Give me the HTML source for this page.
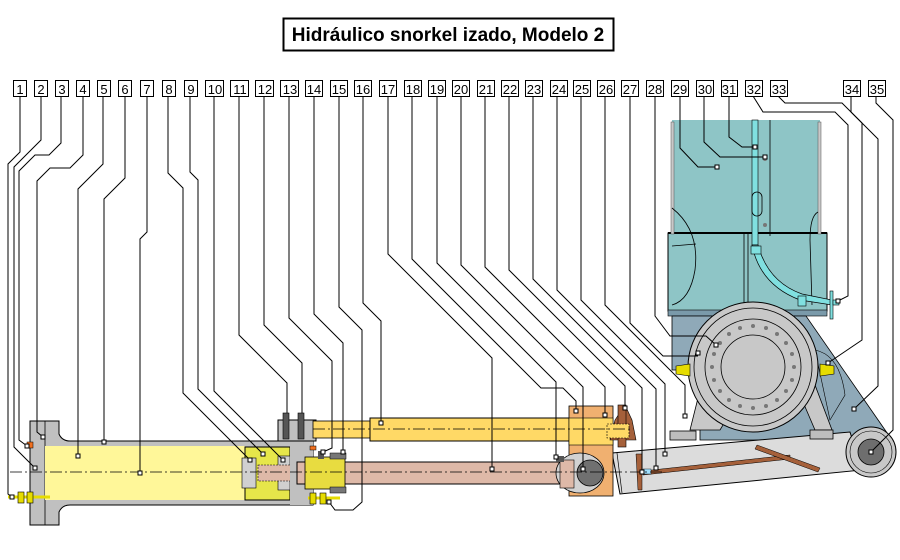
<!DOCTYPE html>
<html><head><meta charset="utf-8"><style>
html,body{margin:0;padding:0;background:#fff;}
svg{display:block;}
text{font-family:"Liberation Sans",sans-serif;}
</style></head><body>
<svg width="900" height="560" viewBox="0 0 900 560" xmlns="http://www.w3.org/2000/svg">
<rect width="900" height="560" fill="#fff"/>
<!-- title -->
<rect x="283.5" y="18.5" width="330" height="32" fill="#fff" stroke="#000" stroke-width="2"/>
<text x="448" y="41" font-size="19" font-weight="bold" text-anchor="middle">Hidráulico snorkel izado, Modelo 2</text>

<!-- ===== Tower ===== -->
<rect x="672" y="120" width="148" height="115" fill="#8ec5c6"/>
<rect x="668" y="233" width="159" height="78" fill="#8ec5c6" stroke="#000" stroke-width="1"/>
<line x1="668" y1="233" x2="827" y2="233" stroke="#000" stroke-width="2"/>
<rect x="671" y="122" width="3" height="112" fill="#c8c8c8" stroke="#555" stroke-width="0.5"/>
<rect x="818" y="122" width="3" height="112" fill="#c8c8c8" stroke="#555" stroke-width="0.5"/>
<path d="M672 208 Q700 230 695 270 Q690 300 672 305" fill="none" stroke="#000" stroke-width="0.8"/>
<path d="M672 246 L696 244" fill="none" stroke="#000" stroke-width="0.8"/>
<line x1="744" y1="233" x2="744" y2="310" stroke="#000" stroke-width="0.8"/>
<line x1="748" y1="233" x2="748" y2="310" stroke="#000" stroke-width="0.8"/>
<line x1="770" y1="120" x2="770" y2="236" stroke="#000" stroke-width="0.8"/>
<path d="M818 212 Q810 216 810 240 L812 305" fill="none" stroke="#000" stroke-width="0.8"/>
<rect x="752" y="120" width="6" height="125" fill="#80e0e0" stroke="#000" stroke-width="0.6"/>
<rect x="752" y="192" width="10" height="24" rx="5" fill="none" stroke="#000" stroke-width="0.8"/>
<circle cx="765" cy="159" r="2" fill="#777"/>
<circle cx="765" cy="225" r="2" fill="#777"/>
<path d="M752 245 Q760 285 800 300 L832 305 L832 300 L802 294 Q768 282 758 245 Z" fill="#80e0e0" stroke="#000" stroke-width="0.7"/>
<rect x="751" y="246" width="10" height="8" fill="#80e0e0" stroke="#000" stroke-width="0.6"/>
<rect x="798" y="296" width="8" height="10" fill="#80e0e0" stroke="#000" stroke-width="0.6"/>
<rect x="830" y="291" width="3" height="28" fill="#80e0e0" stroke="#000" stroke-width="0.6"/>
<rect x="833" y="300" width="6" height="5" fill="#80e0e0" stroke="#000" stroke-width="0.6"/>
<rect x="668" y="310" width="159" height="6" fill="#7a9aaa" stroke="#000" stroke-width="0.6"/>

<!-- blue housing -->
<path d="M672 316 L806 316 L892 440 L880 450 L770 440 L700 440 L700 370 L672 370 Z" fill="#8fa9b8" stroke="#000" stroke-width="0.8"/>
<path d="M815 350 Q840 355 845 395 L830 420 Z" fill="#8fa9b8" stroke="#000" stroke-width="0.6"/>

<!-- lever arm -->
<path d="M612 453 L850 432 L862 470 L620 494 Z" fill="#dcdcdc" stroke="#000" stroke-width="1"/>
<line x1="617" y1="453" x2="622" y2="493" stroke="#000" stroke-width="0.7"/>
<circle cx="871" cy="452" r="25" fill="#c8c8c8" stroke="#000" stroke-width="1"/>
<circle cx="871" cy="452" r="21" fill="none" stroke="#000" stroke-width="0.6"/>
<circle cx="871" cy="452" r="13" fill="#6e6e6e" stroke="#000" stroke-width="0.8"/>
<path d="M643 471 L790 455 L790 459 L643 475 Z" fill="#a5603a" stroke="#000" stroke-width="0.5"/>
<path d="M757 445 L820 468 L818 472 L755 449 Z" fill="#a5603a" stroke="#000" stroke-width="0.5"/>
<path d="M636 454 L642 454 L642 490 L638 490 Z" fill="#a5603a" stroke="#000" stroke-width="0.5"/>
<rect x="643" y="469" width="8" height="5" fill="#a0e0ff" stroke="#000" stroke-width="0.4"/>

<!-- gearbox legs -->
<path d="M700 390 L690 430 L720 430 L735 405 Z" fill="#c8c8c8" stroke="#000" stroke-width="0.8"/>
<path d="M800 395 L815 430 L832 430 L815 385 Z" fill="#c8c8c8" stroke="#000" stroke-width="0.8"/>
<rect x="670" y="431" width="26" height="9" fill="#bdbdbd" stroke="#000" stroke-width="0.8"/>
<rect x="810" y="430" width="23" height="9" fill="#bdbdbd" stroke="#000" stroke-width="0.8"/>
<!-- gear circle -->
<circle cx="753" cy="367" r="65" fill="#c8c8c8" stroke="#000" stroke-width="1"/>
<circle cx="753" cy="367" r="59" fill="#c8c8c8" stroke="#000" stroke-width="0.8"/>
<circle cx="753" cy="367" r="48" fill="#c8c8c8" stroke="#000" stroke-width="0.8"/>
<circle cx="753" cy="367" r="32" fill="#c8c8c8" stroke="#000" stroke-width="0.8"/>
<g fill="#777">
<circle cx="794" cy="367" r="2"/><circle cx="792" cy="380" r="2"/><circle cx="786" cy="391" r="2"/><circle cx="777" cy="400" r="2"/><circle cx="766" cy="406" r="2"/><circle cx="753" cy="408" r="2"/><circle cx="740" cy="406" r="2"/><circle cx="729" cy="400" r="2"/><circle cx="720" cy="391" r="2"/><circle cx="714" cy="380" r="2"/><circle cx="712" cy="367" r="2"/><circle cx="714" cy="354" r="2"/><circle cx="720" cy="343" r="2"/><circle cx="729" cy="334" r="2"/><circle cx="740" cy="328" r="2"/><circle cx="753" cy="326" r="2"/><circle cx="766" cy="328" r="2"/><circle cx="777" cy="334" r="2"/><circle cx="786" cy="343" r="2"/><circle cx="792" cy="354" r="2"/>
</g>
<!-- yellow fittings -->
<path d="M676 366 L690 364 L690 376 L676 374 Z" fill="#e6dc00" stroke="#000" stroke-width="0.6"/>
<path d="M820 364 L834 366 L834 374 L820 376 Z" fill="#e6dc00" stroke="#000" stroke-width="0.6"/>

<!-- ===== Left cylinder ===== -->
<path d="M30 421 L59 421 L59 434 Q62 441 70 441 L313 441 L313 505 L70 505 Q62 505 59 512 L59 525 L30 525 Z" fill="#c0c0c0" stroke="#000" stroke-width="1"/>
<line x1="45" y1="421" x2="45" y2="525" stroke="#000" stroke-width="0.8"/>
<rect x="45" y="446" width="200" height="54" fill="#fff799"/>
<rect x="245" y="447" width="45" height="53" fill="#e6e64a" stroke="#000" stroke-width="1"/>
<rect x="242" y="458" width="14" height="30" fill="#d0d0d0" stroke="#000" stroke-width="0.6"/>
<rect x="278" y="456" width="12" height="34" fill="#d0d0d0" stroke="#000" stroke-width="0.6"/>
<rect x="258" y="465" width="40" height="16" fill="#deb9a8" stroke="#000" stroke-width="0.6" stroke-dasharray="2,1"/>
<rect x="290" y="441" width="23" height="64" fill="#c0c0c0"/>
<!-- bracket -->
<rect x="278" y="420" width="38" height="21" fill="#c0c0c0" stroke="#000" stroke-width="1"/>
<rect x="283" y="413" width="6" height="26" fill="#555" stroke="#000" stroke-width="0.6"/>
<rect x="298" y="413" width="6" height="26" fill="#555" stroke="#000" stroke-width="0.6"/>
<rect x="310" y="446" width="6" height="4" fill="#f07020" stroke="#000" stroke-width="0.5"/>
<rect x="27" y="442" width="6" height="6" fill="#f07020" stroke="#000" stroke-width="0.5"/>
<!-- lower rod -->
<rect x="297" y="462" width="270" height="22" fill="#deb9a8" stroke="#000" stroke-width="1"/>
<rect x="305" y="457" width="40" height="32" fill="#e8dc40" stroke="#000" stroke-width="0.8"/>
<rect x="330" y="453" width="16" height="6" fill="#777" stroke="#000" stroke-width="0.5"/>
<rect x="330" y="487" width="16" height="6" fill="#777" stroke="#000" stroke-width="0.5"/>
<rect x="318" y="451" width="6" height="8" fill="#555"/>
<!-- bottom fittings -->
<path d="M8 497 L50 497" stroke="#e6dc00" stroke-width="3"/>
<rect x="18" y="492" width="6" height="11" fill="#e6dc00" stroke="#000" stroke-width="0.6"/>
<rect x="27" y="492" width="6" height="11" fill="#e6dc00" stroke="#000" stroke-width="0.6"/>
<path d="M308 498 L340 498" stroke="#e6dc00" stroke-width="3"/>
<rect x="310" y="493" width="6" height="11" fill="#e6dc00" stroke="#000" stroke-width="0.6"/>
<rect x="320" y="493" width="6" height="11" fill="#e6dc00" stroke="#000" stroke-width="0.6"/>

<!-- upper yellow rod -->
<rect x="313" y="421" width="58" height="17" fill="#ffd966" stroke="#000" stroke-width="0.8"/>
<rect x="370" y="418" width="240" height="23" fill="#ffd966" stroke="#000" stroke-width="1"/>
<!-- orange block & clevis -->
<rect x="569" y="406" width="44" height="90" fill="#f0b070" stroke="#000" stroke-width="0.8"/>
<rect x="569" y="418" width="44" height="27" fill="#ffd966" stroke="#000" stroke-width="0.6"/>
<ellipse cx="580" cy="473" rx="24" ry="20" fill="#d2d2d2" stroke="#000" stroke-width="0.8"/>
<rect x="560" y="460" width="14" height="28" fill="#deb9a8" stroke="#000" stroke-width="0.6"/>
<circle cx="590" cy="473" r="13" fill="#707070" stroke="#000" stroke-width="0.8"/>
<rect x="556" y="456" width="8" height="6" fill="#555"/>
<path d="M615 420 L625 405 L632 420 L636 440 L610 440 Z" fill="#a5603a" stroke="#000" stroke-width="0.6"/>
<rect x="618" y="405" width="8" height="42" fill="#a5603a" stroke="#000" stroke-width="0.6"/>
<rect x="607" y="424" width="22" height="14" fill="#ffd966" stroke="#000" stroke-width="0.6" stroke-dasharray="2,1"/>

<!-- centerlines -->
<line x1="10" y1="472" x2="662" y2="472" stroke="#000" stroke-width="0.8" stroke-dasharray="12,3,2,3"/>
<line x1="313" y1="429" x2="630" y2="429" stroke="#000" stroke-width="0.8" stroke-dasharray="12,3,2,3"/>

<!-- leaders -->
<g fill="none" stroke="#000" stroke-width="1">
<polyline points="20,96 20,152 8,164 8,494 12,497"/>
<polyline points="41,96 41,140 14,167 14,447 35,468"/>
<polyline points="61,96 61,143 49,155 35,155 19,171 19,440 27,446"/>
<polyline points="83,96 83,155 70,168 50,168 37,181 37,432 43,437"/>
<polyline points="103,96 103,164 78,189 78,456"/>
<polyline points="125,96 125,178 104,199 104,442"/>
<polyline points="147,96 147,232 140,239 140,473"/>
<polyline points="168,96 168,173 183,188 183,393 250,460"/>
<polyline points="190,96 190,172 198,180 198,389 263,454"/>
<polyline points="214,96 214,391 283,460"/>
<polyline points="239,96 239,335 287,383 287,413"/>
<polyline points="264,96 264,325 302,363 302,413"/>
<polyline points="289,96 289,318 332,361 332,448 323,452"/>
<polyline points="314,96 314,314 343,343 343,452"/>
<polyline points="339,96 339,307 362,330 362,502 353,510 335,510 329,502"/>
<polyline points="363,96 363,303 381,321 381,423"/>
<polyline points="388,96 388,254 492,358 492,469"/>
<polyline points="412,96 412,259 541,388 563,388 576,401 576,411"/>
<polyline points="437,96 437,263 543,369 556,382 556,457"/>
<polyline points="461,96 461,265 583,387 583,469"/>
<polyline points="485,96 485,267 605,387 605,415"/>
<polyline points="509,96 509,270 625,386 625,408"/>
<polyline points="533,96 533,279 642,388 642,472"/>
<polyline points="557,96 557,290 656,389 656,468"/>
<polyline points="581,96 581,300 665,384 665,454"/>
<polyline points="605,96 605,305 685,385 685,416"/>
<polyline points="630,96 630,323 663,356 698,356"/>
<polyline points="655,96 655,316 670,336 706,336 716,345"/>
<polyline points="680,96 680,148 698,167 717,167"/>
<polyline points="704,96 704,142 720,157 765,157"/>
<polyline points="729,96 729,137 742,147 755,147"/>
<polyline points="753,96 763,112 835,112 848,125 848,296 838,301"/>
<polyline points="778,96 785,103 842,103 862,123 862,340 828,363"/>
<polyline points="851,96 851,112 878,139 878,386 854,409"/>
<polyline points="876,96 876,103 893,120 893,430 871,452"/>
</g>
<!-- dots -->
<g fill="#fff" stroke="#000" stroke-width="1">
<rect x="10" y="495" width="4" height="4"/><rect x="33" y="466" width="4" height="4"/><rect x="25" y="444" width="4" height="4"/><rect x="41" y="435" width="4" height="4"/><rect x="76" y="454" width="4" height="4"/><rect x="102" y="440" width="4" height="4"/><rect x="138" y="471" width="4" height="4"/><rect x="248" y="458" width="4" height="4"/><rect x="261" y="452" width="4" height="4"/><rect x="281" y="458" width="4" height="4"/><rect x="321" y="450" width="4" height="4"/><rect x="341" y="450" width="4" height="4"/><rect x="327" y="500" width="4" height="4"/><rect x="379" y="421" width="4" height="4"/><rect x="490" y="467" width="4" height="4"/><rect x="574" y="409" width="4" height="4"/><rect x="554" y="455" width="4" height="4"/><rect x="581" y="467" width="4" height="4"/><rect x="603" y="413" width="4" height="4"/><rect x="623" y="406" width="4" height="4"/><rect x="640" y="470" width="4" height="4"/><rect x="654" y="466" width="4" height="4"/><rect x="663" y="452" width="4" height="4"/><rect x="683" y="414" width="4" height="4"/><rect x="696" y="351" width="4" height="4"/><rect x="714" y="343" width="4" height="4"/><rect x="715" y="165" width="4" height="4"/><rect x="763" y="155" width="4" height="4"/><rect x="753" y="145" width="4" height="4"/><rect x="836" y="299" width="4" height="4"/><rect x="826" y="361" width="4" height="4"/><rect x="852" y="407" width="4" height="4"/><rect x="869" y="450" width="4" height="4"/>
</g>

<!-- label boxes -->
<g font-size="13" text-anchor="middle">
<g fill="#fff" stroke="#000" stroke-width="1">
<rect x="13.5" y="80.5" width="13" height="16"/><rect x="34.5" y="80.5" width="13" height="16"/><rect x="55.5" y="80.5" width="13" height="16"/><rect x="76.5" y="80.5" width="13" height="16"/><rect x="97.5" y="80.5" width="13" height="16"/><rect x="118.5" y="80.5" width="13" height="16"/><rect x="140.5" y="80.5" width="13" height="16"/><rect x="162.5" y="80.5" width="13" height="16"/><rect x="184.5" y="80.5" width="13" height="16"/>
<rect x="205.5" y="80.5" width="18" height="16"/><rect x="230.5" y="80.5" width="18" height="16"/><rect x="255.5" y="80.5" width="18" height="16"/><rect x="280.5" y="80.5" width="18" height="16"/><rect x="305.5" y="80.5" width="17" height="16"/><rect x="330.5" y="80.5" width="17" height="16"/><rect x="354.5" y="80.5" width="17" height="16"/><rect x="379.5" y="80.5" width="17" height="16"/><rect x="404.5" y="80.5" width="17" height="16"/><rect x="428.5" y="80.5" width="17" height="16"/><rect x="452.5" y="80.5" width="17" height="16"/><rect x="477.5" y="80.5" width="17" height="16"/><rect x="501.5" y="80.5" width="17" height="16"/><rect x="525.5" y="80.5" width="17" height="16"/><rect x="550.5" y="80.5" width="17" height="16"/><rect x="573.5" y="80.5" width="17" height="16"/><rect x="597.5" y="80.5" width="17" height="16"/><rect x="621.5" y="80.5" width="17" height="16"/><rect x="646.5" y="80.5" width="17" height="16"/><rect x="671.5" y="80.5" width="17" height="16"/><rect x="696.5" y="80.5" width="17" height="16"/><rect x="721.5" y="80.5" width="16" height="16"/><rect x="745.5" y="80.5" width="17" height="16"/><rect x="770.5" y="80.5" width="17" height="16"/><rect x="843.5" y="80.5" width="17" height="16"/><rect x="868.5" y="80.5" width="17" height="16"/>
</g>
<text x="20" y="94">1</text><text x="41" y="94">2</text><text x="62" y="94">3</text><text x="83" y="94">4</text><text x="104" y="94">5</text><text x="125" y="94">6</text><text x="147" y="94">7</text><text x="169" y="94">8</text><text x="191" y="94">9</text>
<text x="215" y="94">10</text><text x="240" y="94">11</text><text x="265" y="94">12</text><text x="290" y="94">13</text><text x="314" y="94">14</text><text x="339" y="94">15</text><text x="363" y="94">16</text><text x="388" y="94">17</text><text x="413" y="94">18</text><text x="437" y="94">19</text><text x="461" y="94">20</text><text x="486" y="94">21</text><text x="510" y="94">22</text><text x="534" y="94">23</text><text x="559" y="94">24</text><text x="582" y="94">25</text><text x="606" y="94">26</text><text x="630" y="94">27</text><text x="655" y="94">28</text><text x="680" y="94">29</text><text x="705" y="94">30</text><text x="729" y="94">31</text><text x="754" y="94">32</text><text x="779" y="94">33</text><text x="852" y="94">34</text><text x="877" y="94">35</text>
</g>
</svg>
</body></html>
